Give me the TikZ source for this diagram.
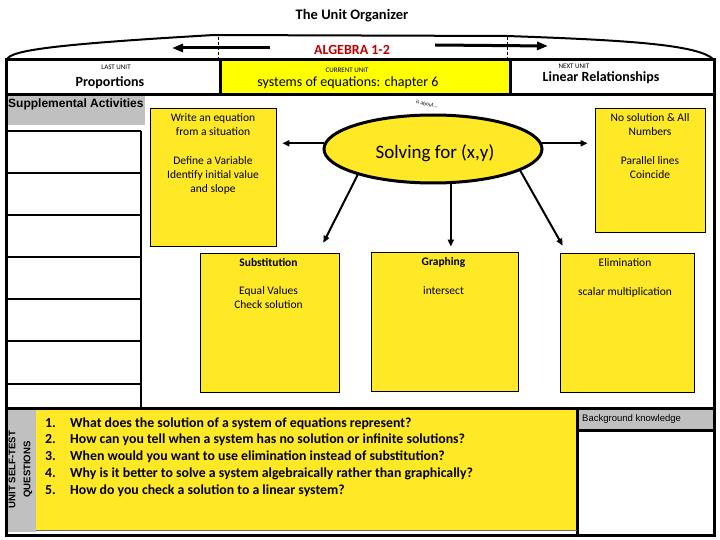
\documentclass[tikz,border=0pt]{standalone}
\usepackage{fontspec}
\setmainfont{Carlito}
\newfontfamily\arialf{Liberation Sans}
\usetikzlibrary{arrows.meta,shapes.geometric}
\definecolor{byellow}{RGB}{255,233,38}
\definecolor{cyellow}{RGB}{255,255,0}
\definecolor{lgray}{RGB}{192,192,192}
\definecolor{dred}{RGB}{192,0,0}
\begin{document}
\begin{tikzpicture}[x=1pt,y=-1pt,
  frame/.style={line width=3pt},
  tframe/.style={line width=2.2pt},
  ybox/.style={draw, line width=0.8pt, fill=byellow, inner sep=0pt},
  btxt/.style={font=\fontsize{11.5}{14.3}\selectfont, align=center, anchor=north, inner sep=0pt},
  qtxt/.style={font=\fontsize{13.8}{15}\selectfont\bfseries, anchor=base west, inner sep=0pt},
  arr/.style={line width=2pt, -{Triangle[length=7pt,width=6pt]}},
  harr/.style={line width=3pt, -{Triangle[length=11pt,width=8pt]}},
  small/.style={font=\fontsize{7}{8}\selectfont, inner sep=0pt},
]
\useasboundingbox (0,0) rectangle (720,540);
\fill[white] (0,0) rectangle (720,540);

% title
\node (title) at (352,16) {\fontsize{14.5}{16}\selectfont\bfseries The Unit Organizer};

% top arc and dashed guides
\draw[line width=2pt] (7,60) .. controls (8,50) and (60,44) .. (214,35) -- (507,36) .. controls (620,40) and (700,44) .. (714,60);
\draw[line width=0.6pt, dash pattern=on 3pt off 2pt] (218,37) -- (218,60);
\draw[line width=0.6pt, dash pattern=on 3pt off 2pt] (507,37) -- (507,60);

% header arrows
\coordinate (la1) at (270,48);
\coordinate (la2) at (172,48);
\coordinate (ra1) at (435,45);
\coordinate (ra2) at (548,46);
\draw[harr] (la1) -- (la2);
\draw[harr] (ra1) -- (ra2);
\node (alg) at (352,50) {\color{dred}\fontsize{14}{16}\selectfont\bfseries ALGEBRA 1-2};

% fills
\fill[cyellow] (220,60) rectangle (510,94);
\fill[lgray] (6,95) rectangle (145,125);
\fill[lgray] (6,408) rectangle (36,532);
\fill[byellow] (36,410) rectangle (577,530);
\fill[lgray] (577,408) rectangle (714,430);

% frame lines
\draw[frame] (5,60) -- (715,60);
\draw[frame] (5,94.5) -- (715,94.5);
\draw[frame] (220,60) -- (220,94.5);
\draw[frame] (510,60) -- (510,94.5);
\draw[frame] (6,58.5) -- (6,536.5);
\draw[frame] (714,58.5) -- (714,536.5);
\draw[frame] (5,408) -- (715,408);
\draw[frame] (5,535) -- (715,535);
\draw[frame] (577,408) -- (577,535);
\draw[frame] (577,430) -- (715,430);
\draw[line width=0.8pt, black!60] (36,530.5) -- (577,530.5);

% left table
\draw[tframe] (141,131) -- (141,408);
\foreach \yy in {131,173,215,257,299,341,384} {\draw[tframe] (6,\yy) -- (141,\yy);}

% header texts
\node[small] (lastlbl) at (116,67) {LAST UNIT};
\node (lastu) at (110,83) {\fontsize{14}{16}\selectfont\bfseries Proportions};
\node[small] (curlbl) at (347,70) {CURRENT UNIT};
\node (curu) at (348,83) {\fontsize{14}{16}\selectfont systems of equations: chapter 6};
\node[small] (nextlbl) at (574,66) {NEXT UNIT};
\node (nextu) at (601,78) {\fontsize{14}{16}\selectfont\bfseries Linear Relationships};

\node[anchor=west, inner sep=0pt] (supp) at (8,104) {\arialf\bfseries\fontsize{12}{14}\selectfont Supplemental Activities};

% boxes
\node[ybox, minimum width=126pt, minimum height=138pt] (write) at (213,177) {};
\node[ybox, minimum width=110pt, minimum height=124pt] (nosol) at (650,170) {};
\node[ybox, minimum width=139pt, minimum height=139pt] (sub) at (269.5,322.5) {};
\node[ybox, minimum width=147pt, minimum height=139pt] (graph) at (444.5,321.5) {};
\node[ybox, minimum width=134pt, minimum height=139pt] (elim) at (627,322.5) {};

\node[btxt] (writeT) at (213,113) {Write an equation\\from a situation\\[14.3pt]Define a Variable\\Identify initial value\\and slope};
\node[btxt] (nosolT) at (650,113) {No solution \& All\\Numbers\\[14.3pt]Parallel lines\\Coincide};
\node[btxt] (subT) at (268.5,258) {\textbf{Substitution}\\[14pt]Equal Values\\Check solution};
\node[btxt] (graphT) at (443.5,257) {\textbf{Graphing}\\[14.6pt]intersect};
\node[btxt] (elimT) at (625,258) {Elimination\\[14.6pt]scalar multiplication};

% central ellipse
\node[ellipse, draw, line width=3pt, fill=byellow, minimum width=218pt, minimum height=68pt, inner sep=0pt] (ell) at (433,149) {};
\node (ellT) at (435,153) {\fontsize{19}{21}\selectfont Solving for (x,y)};
\node[rotate=-12, inner sep=0pt] (about) at (427,104) {\fontsize{5.5}{6}\selectfont is about...};

% connectors
\draw[arr, shorten >=6pt] (ell.177) -- (ell.177 -| write.east);
\draw[arr, shorten >=7pt] (ell.3) -- (ell.3 -| nosol.west);
\draw[arr, shorten >=5pt] (ell.-63) -- (ell.-63 |- graph.north);
\draw[arr, shorten >=8pt] (ell.-14) -- ([xshift=7pt]elim.north west);
\draw[arr, shorten >=11pt] (ell.199) -- ([xshift=-21pt]sub.north east);

% self-test
\node[rotate=90, align=center, inner sep=0pt, font=\arialf\bfseries\fontsize{9.6}{15}\selectfont] (selft) at (20.5,469.5) {UNIT SELF-TEST\\QUESTIONS};
\foreach \i/\yy/\q in {1/427/{What does the solution of a system of equations represent?},
  2/443.75/{How can you tell when a system has no solution or infinite solutions?},
  3/460.5/{When would you want to use elimination instead of substitution?},
  4/477.25/{Why is it better to solve a system algebraically rather than graphically?},
  5/494/{How do you check a solution to a linear system?}} {
  \node[qtxt] (qn\i) at (45,\yy) {\i.};
  \node[qtxt] (qt\i) at (70,\yy) {\q};
}
\node[anchor=west, inner sep=0pt] (bgk) at (582,419) {\arialf\fontsize{9.5}{11}\selectfont Background knowledge};
\end{tikzpicture}
\end{document}
